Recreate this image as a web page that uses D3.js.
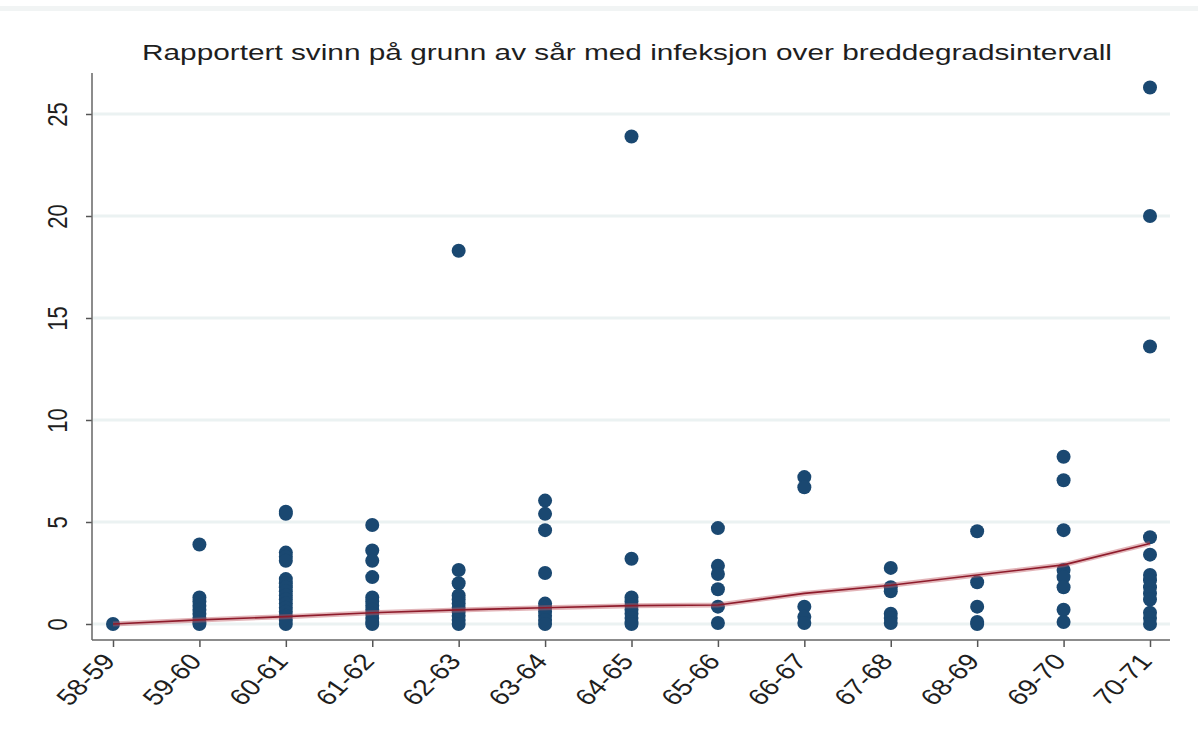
<!DOCTYPE html>
<html>
<head>
<meta charset="utf-8">
<script src="https://cdn.jsdelivr.net/npm/d3@7"></script>
<style>
  body { margin: 0; background: #fff; }
  text { font-family: "Liberation Sans", Arial, sans-serif; fill: #1e1e1e; }
</style>
</head>
<body>
<div id="chart"></div>
<script>
// Daten
const categories = ["58-59","59-60","60-61","61-62","62-63","63-64","64-65","65-66","66-67","67-68","68-69","69-70","70-71"];

// Einzelwerte pro Breddegradsintervall
const pointValues = [
  [0],
  [3.9, 1.3, 1.1, 0.9, 0.7, 0.5, 0.3, 0.1, 0],
  [5.5, 5.4, 3.5, 3.3, 3.1, 2.2, 2.0, 1.8, 1.6, 1.4, 1.2, 1.0, 0.8, 0.6, 0.4, 0.2, 0],
  [4.85, 3.6, 3.1, 2.3, 1.3, 1.1, 0.9, 0.7, 0.5, 0.3, 0.1, 0],
  [18.3, 2.65, 2.0, 1.4, 1.2, 1.0, 0.8, 0.6, 0.4, 0.2, 0],
  [6.05, 5.4, 4.6, 2.5, 1.0, 0.8, 0.6, 0.4, 0.2, 0],
  [23.9, 3.2, 1.3, 1.1, 0.9, 0.7, 0.5, 0.3, 0.1, 0],
  [4.7, 2.85, 2.45, 1.7, 0.85, 0.05],
  [7.2, 6.7, 0.85, 0.35, 0.05],
  [2.75, 1.8, 1.6, 0.5, 0.3, 0.05],
  [4.55, 2.05, 0.85, 0.1, 0],
  [8.2, 7.05, 4.6, 2.65, 2.3, 1.8, 0.7, 0.1],
  [26.3, 20.0, 13.6, 4.25, 3.4, 2.4, 2.15, 1.8, 1.5, 1.2, 0.55, 0.3, 0]
];

// Trendlinie
const lineValues = [0, 0.2, 0.36, 0.55, 0.69, 0.8, 0.9, 0.93, 1.5, 1.9, 2.4, 2.9, 3.95];

const yTicks = [0, 5, 10, 15, 20, 25];

const titleText = "Rapportert svinn på grunn av sår med infeksjon over breddegradsintervall";

// Layout (Originalbild ist horizontal gestreckt)
const width = 1198, height = 742;
const plot = {left: 92, right: 1170, top: 73, bottom: 640};
const stretch = 1.24;

const svg = d3.select("#chart").append("svg")
    .attr("width", width)
    .attr("height", height);

// schwacher Balken oben
svg.append("rect")
    .attr("x", 0).attr("y", 6)
    .attr("width", width).attr("height", 5)
    .attr("fill", "#f1f4f4");

const xScale = d3.scalePoint().domain(categories).range([113, 1150]);
const yScale = d3.scaleLinear().domain([0, 25]).range([624, 114]);

// Rasterlinien
svg.selectAll(".y-grid")
    .data(yTicks)
    .enter()
    .append("line")
    .attr("class", "y-grid")
    .attr("x1", plot.left + 1)
    .attr("x2", plot.right)
    .attr("y1", d => yScale(d))
    .attr("y2", d => yScale(d))
    .attr("stroke", "#ebf2f2")
    .attr("stroke-width", 3);

// Achsen
const yAxis = svg.append("g")
    .attr("transform", `translate(${plot.left},0)`)
    .call(d3.axisLeft(yScale).tickValues(yTicks).tickSize(6).tickSizeOuter(0));
yAxis.select(".domain").remove();
yAxis.append("line")
    .attr("x1", 0).attr("x2", 0)
    .attr("y1", plot.top).attr("y2", plot.bottom)
    .attr("stroke", "#666").attr("stroke-width", 1.5);
yAxis.selectAll(".tick line").attr("stroke", "#555").attr("stroke-width", 1.5);
yAxis.selectAll(".tick text")
    .attr("font-size", 22)
    .attr("x", 0).attr("y", 0)
    .attr("dy", "0.36em")
    .attr("text-anchor", "middle")
    .attr("transform", `translate(-35,0) scale(${stretch},1) rotate(-90)`);

const xAxis = svg.append("g")
    .attr("transform", `translate(0,${plot.bottom})`)
    .call(d3.axisBottom(xScale).tickSize(7).tickSizeOuter(0));
xAxis.select(".domain").remove();
xAxis.append("line")
    .attr("x1", plot.left).attr("x2", plot.right)
    .attr("y1", 0).attr("y2", 0)
    .attr("stroke", "#666").attr("stroke-width", 1.5);
xAxis.selectAll(".tick line").attr("stroke", "#555").attr("stroke-width", 1.5);
xAxis.selectAll(".tick text")
    .attr("font-size", 23)
    .attr("text-anchor", "end")
    .attr("x", 0).attr("y", 0).attr("dy", 0)
    .attr("transform", `translate(3,22) scale(${stretch},1) rotate(-50)`);

// Punkte
const points = [];
categories.forEach((c, i) => {
    pointValues[i].forEach(v => points.push({cat: c, value: v}));
});

svg.selectAll("circle.dot")
    .data(points)
    .enter()
    .append("circle")
    .attr("class", "dot")
    .attr("cx", d => xScale(d.cat))
    .attr("cy", d => yScale(d.value))
    .attr("r", 7)
    .attr("fill", "#1a4871");

// Linie
const line = d3.line()
    .x((d, i) => xScale(categories[i]))
    .y(d => yScale(d));

svg.append("path")
    .datum(lineValues)
    .attr("d", line)
    .attr("fill", "none")
    .attr("stroke", "rgba(190,90,100,0.45)")
    .attr("stroke-width", 5);

svg.append("path")
    .datum(lineValues)
    .attr("d", line)
    .attr("fill", "none")
    .attr("stroke", "#8e1b2b")
    .attr("stroke-width", 1.6);

// Titel
svg.append("text")
    .attr("x", 627)
    .attr("y", 60)
    .attr("text-anchor", "middle")
    .attr("font-size", 22)
    .attr("textLength", 970)
    .attr("lengthAdjust", "spacingAndGlyphs")
    .text(titleText);
</script>
</body>
</html>
